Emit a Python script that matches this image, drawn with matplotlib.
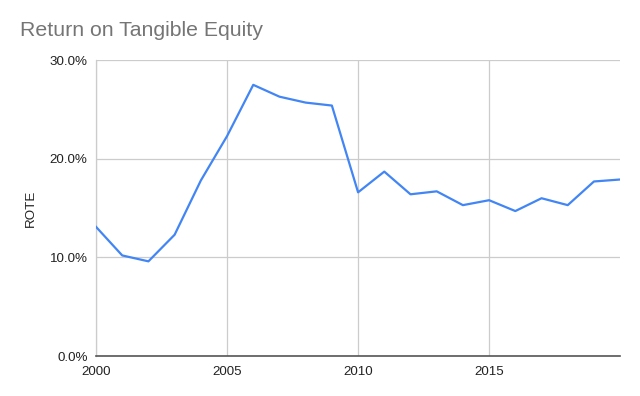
import matplotlib
matplotlib.use('Agg')
import matplotlib.pyplot as plt
import numpy as np

plt.rcParams['font.family'] = ['Liberation Sans', 'DejaVu Sans']

years = list(range(2000, 2021))
rote = [13.1, 10.2, 9.6, 12.3, 17.8, 22.3, 27.5, 26.3, 25.7, 25.4,
        16.6, 18.7, 16.4, 16.7, 15.3, 15.8, 14.7, 16.0, 15.3, 17.7, 17.9]
xticks = [2000, 2005, 2010, 2015]
yticks = [0, 10, 20, 30]

fig = plt.figure(figsize=(6.4, 3.96), dpi=100)
ax = fig.add_axes([0.15, 0.101, 0.819, 0.747])

ax.plot(years, rote, color='#4285F4', linewidth=1.6, zorder=3)

ax.set_xlim(2000, 2020)
ax.set_ylim(0, 30)
ax.set_xticks(xticks)
ax.set_xticklabels([str(x) for x in xticks])
ax.set_yticks(yticks)
ax.set_yticklabels(['%.1f%%' % v for v in yticks])
ax.tick_params(length=0, labelsize=9.6, colors='#222222', pad=6)
ax.tick_params(axis='x', pad=7)

ax.grid(True, color='#cccccc', linewidth=0.9)
ax.set_axisbelow(True)
for s in ['top', 'right']:
    ax.spines[s].set_visible(False)
ax.spines['left'].set_color('#cccccc')
ax.spines['left'].set_linewidth(0.9)
ax.spines['bottom'].set_color('#555555')
ax.spines['bottom'].set_linewidth(1.2)

ax.set_ylabel('ROTE', fontsize=9.6, color='#222222', labelpad=9)
fig.text(0.031, 0.91, 'Return on Tangible Equity', fontsize=15.3, color='#757575',
         ha='left', va='baseline')

fig.savefig('out.png', dpi=100)
